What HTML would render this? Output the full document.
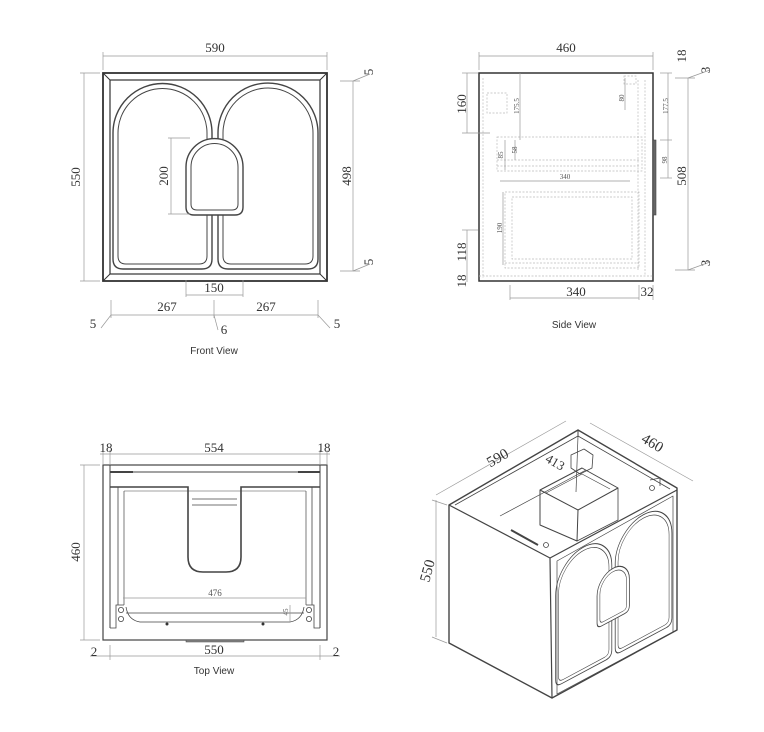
<!DOCTYPE html>
<html><head><meta charset="utf-8"><style>
html,body{margin:0;padding:0;background:#fff}
svg{display:block}
.d{font-family:"Liberation Serif",serif;font-size:13px;fill:#333}
.s{font-family:"Liberation Serif",serif;font-size:7px;fill:#555}
.l{font-family:"Liberation Sans",sans-serif;font-size:10px;fill:#333}
</style></head><body>
<svg width="764" height="732" viewBox="0 0 764 732" xmlns="http://www.w3.org/2000/svg">
<defs>
<g id="doors" fill="none" stroke="#444">
  <path d="M10,186 V60 A49.5,49.5 0 0 1 109,60 V186 Q109,196 99,196 H20 Q10,196 10,186 Z" stroke-width="1.4"/>
  <path d="M15,183 V60 A44.5,44.5 0 0 1 104,60 V183 Q104,191 96,191 H23 Q15,191 15,183 Z" stroke-width="1"/>
  <path d="M115,186 V60 A50,50 0 0 1 215,60 V186 Q215,196 205,196 H125 Q115,196 115,186 Z" stroke-width="1.4"/>
  <path d="M120,183 V60 A45,45 0 0 1 210,60 V183 Q210,191 202,191 H128 Q120,191 120,183 Z" stroke-width="1"/>
  <path d="M83,134 V94 A28.5,28.5 0 0 1 140,94 V134 Q140,142 132,142 H91 Q83,142 83,134 Z" fill="#fff" stroke-width="1.4"/>
  <path d="M88,131 V94 A23.5,23.5 0 0 1 135,94 V131 Q135,137 129,137 H94 Q88,137 88,131 Z" stroke-width="1"/>
</g>
</defs>

<!-- FRONT VIEW -->
<g stroke="#333" fill="none">
  <rect x="103" y="73" width="224" height="208" stroke-width="1.8"/>
  <rect x="110" y="80" width="210" height="194" stroke-width="1.2"/>
  <line x1="103" y1="73" x2="110" y2="80"/><line x1="327" y1="73" x2="320" y2="80"/>
  <line x1="103" y1="281" x2="110" y2="274"/><line x1="327" y1="281" x2="320" y2="274"/>
</g>
<use href="#doors" x="103" y="73"/>
<g stroke="#999" stroke-width="0.7" fill="none">
  <line x1="103" y1="56" x2="327" y2="56"/><line x1="103" y1="52" x2="103" y2="70"/><line x1="327" y1="52" x2="327" y2="70"/>
  <line x1="84" y1="73" x2="84" y2="281"/><line x1="80" y1="73" x2="100" y2="73"/><line x1="80" y1="281" x2="100" y2="281"/>
  <line x1="353" y1="81" x2="353" y2="271"/><line x1="340" y1="81" x2="360" y2="81"/><line x1="340" y1="271" x2="360" y2="271"/>
  <line x1="353" y1="81" x2="370" y2="74"/><line x1="353" y1="271" x2="370" y2="264"/>
  <line x1="171" y1="138" x2="171" y2="214"/><line x1="168" y1="138" x2="190" y2="138"/><line x1="168" y1="214" x2="190" y2="214"/>
  <line x1="186" y1="295" x2="243" y2="295"/><line x1="186" y1="280" x2="186" y2="297"/><line x1="243" y1="280" x2="243" y2="297"/>
  <line x1="111" y1="315" x2="318" y2="315"/>
  <line x1="111" y1="300" x2="111" y2="318"/><line x1="214" y1="300" x2="214" y2="318"/><line x1="318" y1="300" x2="318" y2="318"/>
  <line x1="111" y1="315" x2="101" y2="328"/><line x1="214" y1="315" x2="218" y2="330"/><line x1="318" y1="315" x2="330" y2="328"/>
</g>
<text class="d" x="215" y="52" text-anchor="middle">590</text>
<text class="d" transform="translate(80,177) rotate(-90)" text-anchor="middle">550</text>
<text class="d" transform="translate(351,176) rotate(-90)" text-anchor="middle">498</text>
<text class="d" transform="translate(168,176) rotate(-90)" text-anchor="middle">200</text>
<text class="d" transform="translate(373,72) rotate(-90)" text-anchor="middle">5</text>
<text class="d" transform="translate(373,262) rotate(-90)" text-anchor="middle">5</text>
<text class="d" x="214" y="292" text-anchor="middle">150</text>
<text class="d" x="167" y="311" text-anchor="middle">267</text>
<text class="d" x="266" y="311" text-anchor="middle">267</text>
<text class="d" x="93" y="328" text-anchor="middle">5</text>
<text class="d" x="224" y="334" text-anchor="middle">6</text>
<text class="d" x="337" y="328" text-anchor="middle">5</text>
<text class="l" x="214" y="354" text-anchor="middle">Front View</text>

<!-- SIDE VIEW -->
<g fill="none">
  <rect x="479" y="73" width="174" height="208" stroke="#333" stroke-width="1.5"/>
  <rect x="653" y="140" width="3" height="75" fill="#666" stroke="#444" stroke-width="0.6"/>
  <g stroke="#bbb" stroke-width="0.7" stroke-dasharray="2,1.5">
    <rect x="487" y="93" width="20" height="20"/>
    <rect x="497" y="137" width="145" height="34"/>
    <line x1="497" y1="160" x2="640" y2="160"/><line x1="497" y1="166" x2="640" y2="166"/>
    <rect x="505" y="192" width="134" height="76"/>
    <rect x="512" y="197" width="120" height="62"/>
    <line x1="505" y1="263" x2="639" y2="263"/>
    <line x1="638" y1="80" x2="638" y2="270"/><line x1="645" y1="80" x2="645" y2="275"/>
    <line x1="483" y1="78" x2="483" y2="278"/>
    <line x1="479" y1="276" x2="653" y2="276"/>
    <rect x="624" y="76" width="12" height="8"/>
  </g>
  <g stroke="#999" stroke-width="0.7">
    <line x1="479" y1="56" x2="653" y2="56"/><line x1="479" y1="52" x2="479" y2="70"/><line x1="653" y1="52" x2="653" y2="70"/>
    <line x1="467" y1="73" x2="467" y2="133"/><line x1="462" y1="73" x2="478" y2="73"/><line x1="462" y1="133" x2="490" y2="133"/>
    <line x1="520" y1="73" x2="520" y2="140"/>
    <line x1="625" y1="78" x2="625" y2="110"/>
    <line x1="505" y1="140" x2="505" y2="170"/>
    <line x1="515" y1="140" x2="515" y2="160"/>
    <line x1="500" y1="181" x2="630" y2="181"/>
    <line x1="503" y1="192" x2="503" y2="265"/>
    <line x1="467" y1="230" x2="467" y2="274"/><line x1="462" y1="230" x2="478" y2="230"/>
    <line x1="467" y1="274" x2="467" y2="282"/>
    <line x1="510" y1="298" x2="639" y2="298"/><line x1="510" y1="285" x2="510" y2="300"/><line x1="639" y1="285" x2="639" y2="300"/><line x1="653" y1="285" x2="653" y2="300"/>
    <line x1="668" y1="73" x2="668" y2="140"/><line x1="668" y1="140" x2="668" y2="178"/>
    <line x1="660" y1="140" x2="672" y2="140"/><line x1="660" y1="178" x2="672" y2="178"/><line x1="660" y1="73" x2="672" y2="73"/>
    <line x1="688" y1="78" x2="688" y2="270"/><line x1="675" y1="78" x2="695" y2="78"/><line x1="675" y1="270" x2="695" y2="270"/>
    <line x1="688" y1="78" x2="710" y2="70"/><line x1="688" y1="270" x2="710" y2="262"/>
  </g>
</g>
<text class="d" x="566" y="52" text-anchor="middle">460</text>
<text class="d" transform="translate(466,104) rotate(-90)" text-anchor="middle">160</text>
<text class="d" transform="translate(466,252) rotate(-90)" text-anchor="middle">118</text>
<text class="d" transform="translate(466,281) rotate(-90)" text-anchor="middle">18</text>
<text class="d" transform="translate(686,176) rotate(-90)" text-anchor="middle">508</text>
<text class="d" transform="translate(686,56) rotate(-90)" text-anchor="middle">18</text>
<text class="d" transform="translate(710,70) rotate(-90)" text-anchor="middle">3</text>
<text class="d" transform="translate(710,263) rotate(-90)" text-anchor="middle">3</text>
<text class="s" transform="translate(668,106) rotate(-90)" text-anchor="middle">177.5</text>
<text class="s" transform="translate(667,160) rotate(-90)" text-anchor="middle">98</text>
<text class="s" transform="translate(519,106) rotate(-90)" text-anchor="middle">175.5</text>
<text class="s" transform="translate(624,98) rotate(-90)" text-anchor="middle">80</text>
<text class="s" transform="translate(517,150) rotate(-90)" text-anchor="middle">58</text>
<text class="s" transform="translate(503,155) rotate(-90)" text-anchor="middle">85</text>
<text class="s" transform="translate(502,228) rotate(-90)" text-anchor="middle">190</text>
<text class="s" x="565" y="179" text-anchor="middle">340</text>
<text class="d" x="576" y="296" text-anchor="middle">340</text>
<text class="d" x="647" y="296" text-anchor="middle">32</text>
<text class="l" x="574" y="328" text-anchor="middle">Side View</text>

<!-- TOP VIEW -->
<g fill="none" stroke="#444">
  <rect x="103" y="465" width="224" height="175" stroke-width="1.2"/>
  <line x1="110" y1="465" x2="110" y2="628"/><line x1="320" y1="465" x2="320" y2="628"/>
  <line x1="110" y1="472" x2="320" y2="472" stroke-width="1"/>
  <line x1="110" y1="472" x2="133" y2="472" stroke-width="2"/><line x1="298" y1="472" x2="320" y2="472" stroke-width="2"/>
  <path d="M110,487 H188 V557 Q188,572 203,572 H226 Q241,572 241,557 V487 H320" stroke-width="1.6"/>
  <line x1="192" y1="499" x2="237" y2="499" stroke-width="0.7"/><line x1="192" y1="505" x2="237" y2="505" stroke-width="0.7"/>
  <line x1="118" y1="487" x2="118" y2="605" stroke-width="0.8"/><line x1="124" y1="491" x2="124" y2="605" stroke-width="0.7"/>
  <line x1="312" y1="487" x2="312" y2="605" stroke-width="0.8"/><line x1="306" y1="491" x2="306" y2="605" stroke-width="0.7"/>
  <line x1="124" y1="491" x2="306" y2="491" stroke-width="0.6"/>
  <path d="M110,628 H116 V605 H124" stroke-width="0.8"/><path d="M320,628 H314 V605 H306" stroke-width="0.8"/>
  <path d="M126,607 Q128,620 140,622 H290 Q302,620 304,607" stroke-width="0.8"/>
  <line x1="126" y1="613" x2="304" y2="613" stroke-width="0.8"/>
  <circle cx="121" cy="610" r="2.6" stroke-width="0.8"/><circle cx="121" cy="619" r="2.6" stroke-width="0.8"/>
  <circle cx="309" cy="610" r="2.6" stroke-width="0.8"/><circle cx="309" cy="619" r="2.6" stroke-width="0.8"/>
  <rect x="186" y="640" width="58" height="2" fill="#888" stroke-width="0.5"/>
</g>
<circle cx="167" cy="624" r="1.5" fill="#333"/><circle cx="263" cy="624" r="1.5" fill="#333"/>
<g stroke="#999" stroke-width="0.7">
  <line x1="100" y1="454" x2="330" y2="454"/>
  <line x1="103" y1="450" x2="103" y2="464"/><line x1="110" y1="450" x2="110" y2="464"/><line x1="320" y1="450" x2="320" y2="464"/><line x1="327" y1="450" x2="327" y2="464"/>
  <line x1="84" y1="465" x2="84" y2="640"/><line x1="80" y1="465" x2="100" y2="465"/><line x1="80" y1="640" x2="100" y2="640"/>
  <line x1="123" y1="598" x2="306" y2="598"/>
  <line x1="290" y1="605" x2="290" y2="622"/>
  <line x1="110" y1="656" x2="320" y2="656"/><line x1="110" y1="645" x2="110" y2="660"/><line x1="320" y1="645" x2="320" y2="660"/>
  <line x1="90" y1="656" x2="110" y2="656"/><line x1="320" y1="656" x2="340" y2="656"/>
</g>
<text class="d" x="106" y="452" text-anchor="middle">18</text>
<text class="d" x="214" y="452" text-anchor="middle">554</text>
<text class="d" x="324" y="452" text-anchor="middle">18</text>
<text class="d" transform="translate(80,552) rotate(-90)" text-anchor="middle">460</text>
<text class="s" x="215" y="596" text-anchor="middle" style="font-size:9px">476</text>
<text class="s" transform="translate(288,612) rotate(-90)" text-anchor="middle">45</text>
<text class="d" x="214" y="654" text-anchor="middle">550</text>
<text class="d" x="94" y="656" text-anchor="middle">2</text>
<text class="d" x="336" y="656" text-anchor="middle">2</text>
<text class="l" x="214" y="674" text-anchor="middle">Top View</text>

<!-- ISO VIEW -->
<g fill="none" stroke="#444" stroke-linejoin="round">
  <path d="M449,505 L578,430 L677,488 L677,630 L552,698 L449,643 Z" stroke-width="1.4"/>
  <path d="M449,505 L550,558 L552,698" stroke-width="1.2"/>
  <path d="M550,558 L677,490" stroke-width="1.2"/>
  <path d="M455,505 L578,436 L670,489" stroke-width="0.8"/>
  <line x1="578" y1="430" x2="578" y2="436"/>
  <line x1="578" y1="436" x2="576" y2="492" stroke-width="0.7"/>
  <path d="M500,516 L586,470" stroke-width="0.7"/>
  <path d="M557,561 L557,694 L673,632 L673,496 Z" stroke-width="0.7"/>
  <path d="M540,490 L582,468 L618,488 L578,510 Z" stroke-width="1"/>
  <path d="M540,490 L540,525 L577,541 L578,510" stroke-width="1"/>
  <path d="M546,493 L582,474 L610,489" stroke-width="0.7"/>
  <path d="M577,541 L618,520 L618,488" stroke-width="0.8"/>
  <path d="M571,455 L584,449 L593,455 L592,468 L580,474 L571,468 Z" stroke-width="0.8"/>
  <path d="M511,530 L538,545" stroke-width="2"/>
  <circle cx="546" cy="545" r="2.5" stroke-width="0.8"/><circle cx="652" cy="488" r="2.5" stroke-width="0.8"/>
  <path d="M650,480 L660,478 L660,486" stroke-width="0.8"/>
</g>
<g transform="matrix(0.567,-0.3036,0,0.673,550,558)"><use href="#doors"/></g>
<g stroke="#999" stroke-width="0.7">
  <line x1="436" y1="495" x2="566" y2="421"/><line x1="590" y1="423" x2="693" y2="481"/>
  <line x1="436" y1="500" x2="436" y2="637"/><line x1="432" y1="500" x2="447" y2="505"/><line x1="432" y1="637" x2="447" y2="643"/>
</g>
<text class="d" transform="translate(500,462) rotate(-30)" text-anchor="middle" style="font-size:15px">590</text>
<text class="d" transform="translate(650,447) rotate(31)" text-anchor="middle" style="font-size:15px">460</text>
<text class="d" transform="translate(553,466) rotate(30)" text-anchor="middle" style="font-size:13px">413</text>
<text class="d" transform="translate(432,572) rotate(-75)" text-anchor="middle" style="font-size:15px">550</text>
</svg>
</body></html>
